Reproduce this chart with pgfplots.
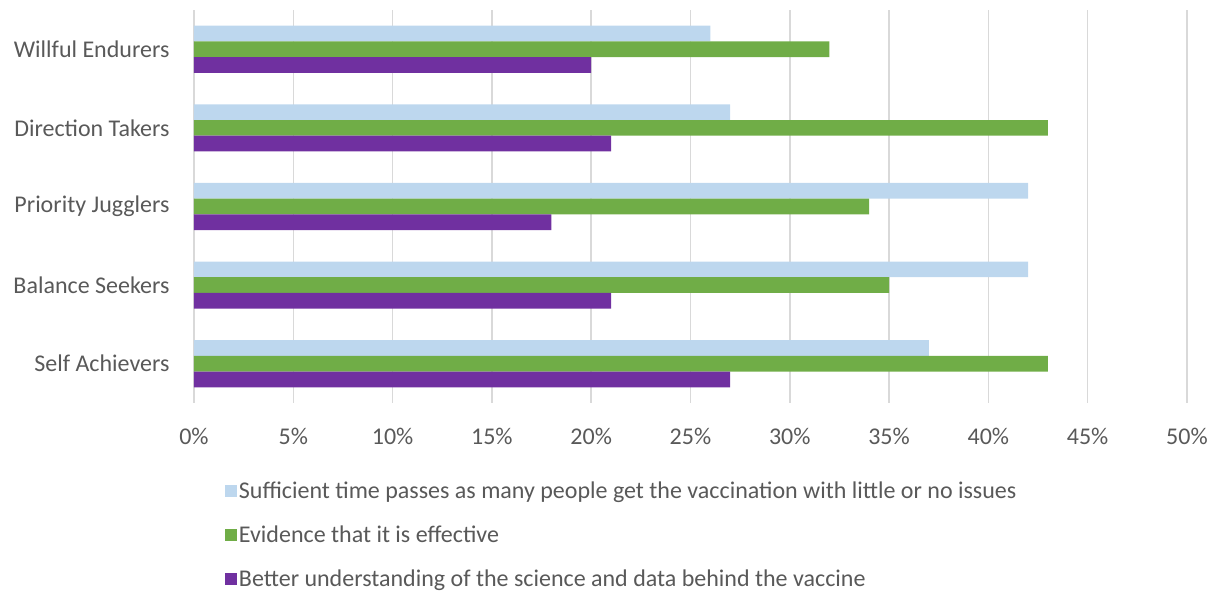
\documentclass[border=0pt]{standalone}
\usepackage{fontspec}
\setmainfont{Carlito}
\usepackage{pgfplots}
\pgfplotsset{compat=1.18}
\definecolor{lblue}{HTML}{BDD7EE}
\definecolor{vgreen}{HTML}{70AD47}
\definecolor{vpurple}{HTML}{7030A0}
\definecolor{txt}{HTML}{595959}
\definecolor{gridc}{HTML}{D9D9D9}
\begin{document}
\begin{tikzpicture}
\begin{axis}[
  scale only axis,
  width=993bp, height=393bp,
  xmin=0, xmax=50,
  ymin=-0.5, ymax=4.5,
  xtick={0,5,...,50},
  xticklabel={\pgfmathprintnumber{\tick}\%},
  ytick={0,1,2,3,4},
  yticklabels={Self Achievers,Balance Seekers,Priority Jugglers,Direction Takers,Willful Endurers},
  /pgf/number format/assume math mode=true,
  tick label style={font=\fontsize{24bp}{28bp}\selectfont, text=txt},
  xticklabel style={yshift=-22bp},
  yticklabel style={xshift=-21bp},
  major tick length=0pt,
  axis line style={draw=none},
  xmajorgrids,
  grid style={gridc, line width=1.5bp},
  xbar,
  bar width=0.2,
  legend style={at={(0.028,-0.19)}, anchor=north west, draw=none,
    font=\fontsize{24bp}{28bp}\selectfont, text=txt, row sep=22bp,
    legend cell align=left},
  legend image code/.code={\fill[#1] (0bp,-6bp) rectangle (12bp,6bp);},
]
\addplot[fill=lblue, draw=none, bar shift=0.2] coordinates {(37,0) (42,1) (42,2) (27,3) (26,4)};
\addplot[fill=vgreen, draw=none, bar shift=0] coordinates {(43,0) (35,1) (34,2) (43,3) (32,4)};
\addplot[fill=vpurple, draw=none, bar shift=-0.2] coordinates {(27,0) (21,1) (18,2) (21,3) (20,4)};
\legend{Sufficient time passes as many people get the vaccination with little or no issues,
Evidence that it is effective,
Better understanding of the science and data behind the vaccine}
\end{axis}
\path[use as bounding box] (-194bp,-187bp) rectangle (1017bp,403bp);
\end{tikzpicture}
\end{document}
